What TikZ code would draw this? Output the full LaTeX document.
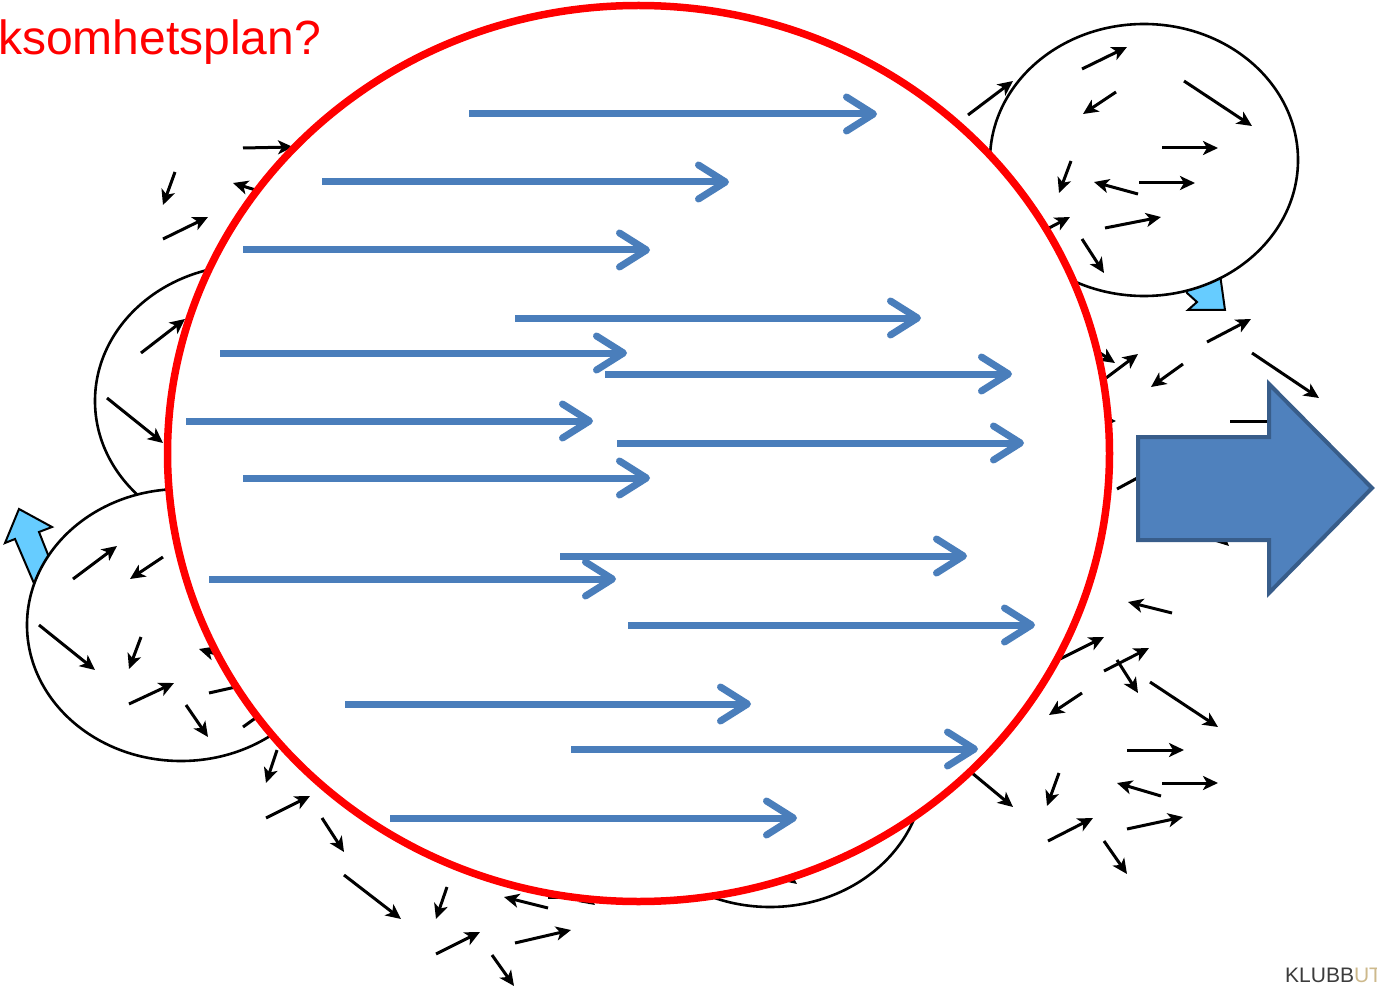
\documentclass[tikz,border=0pt]{standalone}
\usepackage{fontspec}
\setmainfont{Liberation Sans}
\usetikzlibrary{arrows.meta}
\definecolor{linkblue}{RGB}{74,126,187}
\definecolor{bigblue}{RGB}{79,129,189}
\definecolor{bigborder}{RGB}{56,93,138}
\definecolor{lightblue}{RGB}{102,204,255}
\definecolor{klubbgray}{RGB}{60,60,60}
\definecolor{klubbtan}{RGB}{205,185,140}
\tikzset{
  bubble/.style={draw=black, fill=white, line width=2.6pt},
  smallarr/.style={draw=black, line width=3pt, -{Stealth[length=15pt,width=14pt,inset=4pt]}},
  bluearr/.style={draw=linkblue, line width=7pt, -{Straight Barb[length=27pt,width=34pt,round]}},
  lightarr/.style={draw=black, fill=lightblue, line width=2pt, line join=miter},
  bigarr/.style={draw=bigborder, fill=bigblue, line width=4pt, line join=miter},
}
\begin{document}
\begin{tikzpicture}[x=1pt,y=-1pt]
\clip (0,0) rectangle (1377,987);
\fill[white] (0,0) rectangle (1377,987);

% light blue block arrows (behind bubbles)
\path[lightarr] (19,509) -- (52,527) -- (39,532) -- (62,590) -- (42,602) -- (15,539) -- (5,543) -- cycle;
\path[lightarr] (1182,260) -- (1187,293) -- (1197,302) -- (1188,310) -- (1225,310) -- (1218,260) -- cycle;

% bubbles
\draw[bubble] (249,401) ellipse [x radius=154pt, y radius=136pt];
\draw[bubble] (181,625) ellipse [x radius=154pt, y radius=136pt];
\draw[bubble] (1144,160) ellipse [x radius=154pt, y radius=136pt];
\draw[bubble] (770,771) ellipse [x radius=154pt, y radius=136pt];

% small black arrows: top left
\draw[smallarr] (243,148) -- (293,147);
\draw[smallarr] (175,172) -- (163,205);
\draw[smallarr] (262,192) -- (233,183);
\draw[smallarr] (163,239) -- (208,217);
% left upper bubble
\draw[smallarr] (141,353) -- (185,319);
\draw[smallarr] (107,398) -- (163,443);
% left lower bubble
\draw[smallarr] (73,579) -- (117,546);
\draw[smallarr] (163,557) -- (130,579);
\draw[smallarr] (39,625) -- (95,670);
\draw[smallarr] (141,637) -- (129,669);
\draw[smallarr] (129,704) -- (174,683);
\draw[smallarr] (186,705) -- (208,737);
\draw[smallarr] (240,661) -- (199,649);
\draw[smallarr] (209,693) -- (258,682);
\draw[smallarr] (243,727) -- (282,699);
% bottom left
\draw[smallarr] (277,750) -- (266,783);
\draw[smallarr] (266,818) -- (310,796);
\draw[smallarr] (322,818) -- (344,852);
\draw[smallarr] (344,875) -- (401,919);
\draw[smallarr] (447,887) -- (436,919);
\draw[smallarr] (548,908) -- (504,897);
\draw[smallarr] (436,954) -- (480,932);
\draw[smallarr] (515,943) -- (571,930);
\draw[smallarr] (492,955) -- (514,986);
\draw[smallarr] (548,897) -- (604,897);
\draw[smallarr] (560,880) -- (595,905);
\draw[smallarr] (750,848) -- (797,884);
% top right bubble
\draw[smallarr] (968,115) -- (1013,81);
\draw[smallarr] (1082,69) -- (1127,47);
\draw[smallarr] (1116,92) -- (1083,114);
\draw[smallarr] (1184,81) -- (1252,126);
\draw[smallarr] (1162,148) -- (1218,148);
\draw[smallarr] (1071,161) -- (1059,193);
\draw[smallarr] (1138,194) -- (1094,182);
\draw[smallarr] (1139,183) -- (1195,183);
\draw[smallarr] (1030,238) -- (1070,217);
\draw[smallarr] (1105,228) -- (1161,217);
\draw[smallarr] (1082,239) -- (1104,273);
% right middle
\draw[smallarr] (1207,342) -- (1251,319);
\draw[smallarr] (1252,353) -- (1319,398);
\draw[smallarr] (1183,364) -- (1151,387);
\draw[smallarr] (1106,378) -- (1138,354);
\draw[smallarr] (1088,345) -- (1115,363);
\draw[smallarr] (1060,421) -- (1116,421);
\draw[smallarr] (1230,421) -- (1290,421);
\draw[smallarr] (1117,489) -- (1165,463);
\draw[smallarr] (1195,515) -- (1229,546);
% right bottom
\draw[smallarr] (1172,613) -- (1128,602);
\draw[smallarr] (1060,659) -- (1104,637);
\draw[smallarr] (1104,671) -- (1149,648);
\draw[smallarr] (1117,660) -- (1138,693);
\draw[smallarr] (1150,682) -- (1218,727);
\draw[smallarr] (1082,693) -- (1049,715);
\draw[smallarr] (1127,750) -- (1184,750);
\draw[smallarr] (960,763) -- (1013,807);
\draw[smallarr] (1059,773) -- (1047,806);
\draw[smallarr] (1161,796) -- (1117,783);
\draw[smallarr] (1162,783) -- (1218,783);
\draw[smallarr] (1048,841) -- (1093,818);
\draw[smallarr] (1127,829) -- (1183,817);
\draw[smallarr] (1104,841) -- (1127,874);

% big red circle
\draw[red, line width=7.5pt, fill=white] (638.5,453.5) ellipse [x radius=471pt, y radius=448pt];

% blue arrows
\draw[bluearr] (469,114) -- (877,114);
\draw[bluearr] (322,182) -- (729,182);
\draw[bluearr] (243,250) -- (650,250);
\draw[bluearr] (515,318) -- (921,318);
\draw[bluearr] (220,353) -- (627,353);
\draw[bluearr] (605,374) -- (1012,374);
\draw[bluearr] (186,421) -- (593,421);
\draw[bluearr] (617,443) -- (1024,443);
\draw[bluearr] (243,478) -- (650,478);
\draw[bluearr] (560,556) -- (967,556);
\draw[bluearr] (209,579) -- (616,579);
\draw[bluearr] (628,625) -- (1035,625);
\draw[bluearr] (345,704) -- (751,704);
\draw[bluearr] (571,749) -- (978,749);
\draw[bluearr] (390,818) -- (797,818);

% big block arrow
\path[bigarr] (1138,437) -- (1269,437) -- (1269,384) -- (1372,488) -- (1269,593) -- (1269,540) -- (1138,540) -- cycle;

% texts
\node[anchor=base west, inner sep=0pt, text=red, font=\fontsize{48pt}{50pt}\selectfont] (title) at (-2,55) {ksomhetsplan?};
\node[anchor=base west, inner sep=0pt, font=\fontsize{21pt}{22pt}\selectfont] (logo) at (1285,982) {\textcolor{klubbgray}{KLUBB}\textcolor{klubbtan}{UT}};
\end{tikzpicture}
\end{document}
